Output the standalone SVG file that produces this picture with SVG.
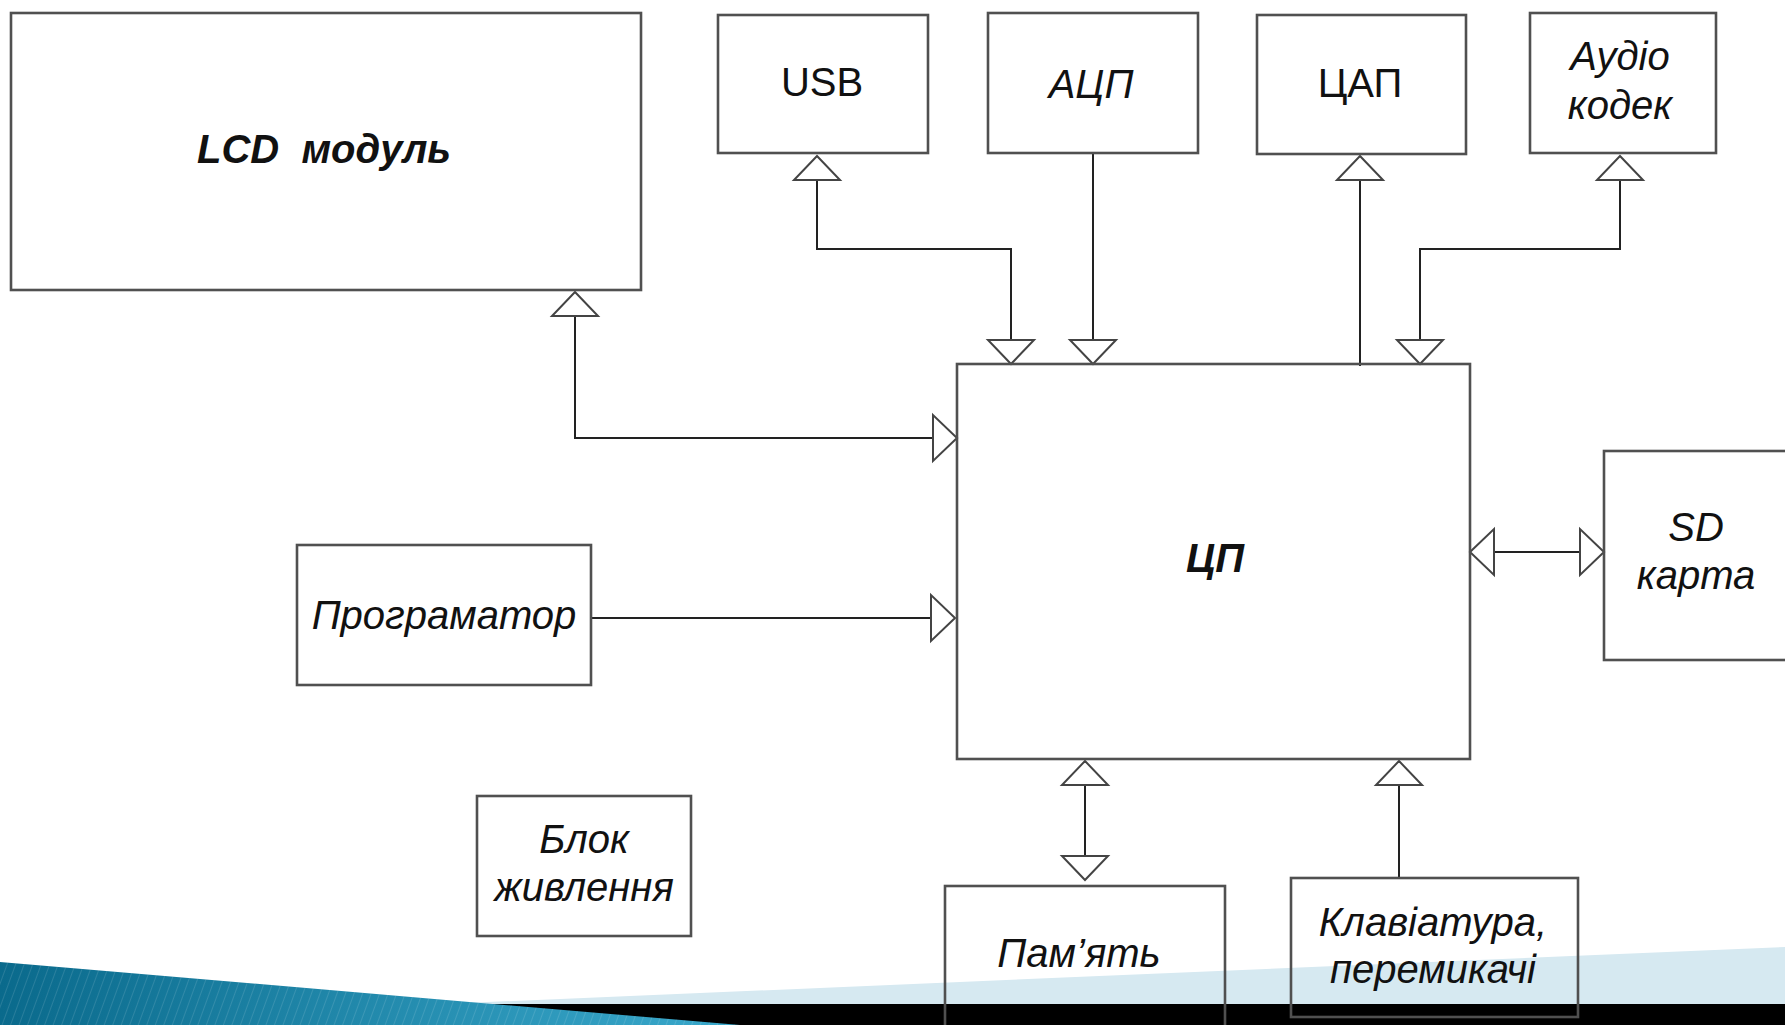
<svg xmlns="http://www.w3.org/2000/svg" xmlns:xlink="http://www.w3.org/1999/xlink" width="1785" height="1025" viewBox="0 0 1785 1025">
<style>
.box{fill:none;stroke:#505050;stroke-width:2.6}
.t{font-family:"Liberation Sans",Arial,sans-serif;font-size:40px;fill:#111;text-anchor:middle}
.i{font-style:italic}
.b{font-weight:bold}
.ln{fill:none;stroke:#222;stroke-width:2}
.tri{fill:#fff;stroke:#444;stroke-width:2;stroke-linejoin:miter}
</style>
<defs>
<path id="ar" class="tri" d="M0,0 L23,24 L-23,24 Z"/>
<linearGradient id="teal" x1="0" y1="0" x2="1" y2="0">
<stop offset="0" stop-color="#0a6a8c"/>
<stop offset="1" stop-color="#3aa9cc"/>
</linearGradient>
<pattern id="stripes" width="8" height="8" patternUnits="userSpaceOnUse" patternTransform="rotate(20)">
<rect width="8" height="8" fill="none"/>
<line x1="0" y1="0" x2="0" y2="8" stroke="#ffffff" stroke-opacity="0.12" stroke-width="2"/>
</pattern>
</defs>
<rect width="1785" height="1025" fill="#fff"/>
<g id="background">
<polygon points="300,1010 1785,947 1785,1025 300,1025" fill="#d6e9f1"/>
<rect x="0" y="1004" width="1785" height="21" fill="#000"/>
<polygon points="0,962 740,1025 0,1025" fill="url(#teal)"/>
<polygon points="0,962 740,1025 0,1025" fill="url(#stripes)"/>
</g>
<g id="connectors">
<polyline class="ln" points="817,181 817,249 1011,249 1011,340"/>
<line class="ln" x1="1093" y1="153" x2="1093" y2="340"/>
<line class="ln" x1="1360" y1="366" x2="1360" y2="181"/>
<polyline class="ln" points="1620,181 1620,249 1420,249 1420,340"/>
<polyline class="ln" points="575,316 575,438 933,438"/>
<line class="ln" x1="591" y1="618" x2="933" y2="618"/>
<line class="ln" x1="1494" y1="552" x2="1580" y2="552"/>
<line class="ln" x1="1085" y1="785" x2="1085" y2="856"/>
<line class="ln" x1="1399" y1="785" x2="1399" y2="878"/>
<use xlink:href="#ar" transform="translate(817,156)"/>
<use xlink:href="#ar" transform="translate(1011,364) rotate(180)"/>
<use xlink:href="#ar" transform="translate(1093,364) rotate(180)"/>
<use xlink:href="#ar" transform="translate(1360,156)"/>
<use xlink:href="#ar" transform="translate(1620,156)"/>
<use xlink:href="#ar" transform="translate(1420,364) rotate(180)"/>
<use xlink:href="#ar" transform="translate(575,292)"/>
<use xlink:href="#ar" transform="translate(957,438) rotate(90)"/>
<use xlink:href="#ar" transform="translate(955,618) rotate(90)"/>
<use xlink:href="#ar" transform="translate(1470,552) rotate(-90)"/>
<use xlink:href="#ar" transform="translate(1604,552) rotate(90)"/>
<use xlink:href="#ar" transform="translate(1085,761)"/>
<use xlink:href="#ar" transform="translate(1085,880) rotate(180)"/>
<use xlink:href="#ar" transform="translate(1399,761)"/>
</g>
<g id="lcd"><rect class="box" x="11" y="13" width="630" height="277"/><text class="t i b" x="324" y="163">LCD &#160;модуль</text></g>
<g id="usb"><rect class="box" x="718" y="15" width="210" height="138"/><text class="t" x="822" y="96">USB</text></g>
<g id="adc"><rect class="box" x="988" y="13" width="210" height="140"/><text class="t i" x="1091" y="98">АЦП</text></g>
<g id="dac"><rect class="box" x="1257" y="15" width="209" height="139"/><text class="t" x="1360" y="97">ЦАП</text></g>
<g id="codec"><rect class="box" x="1530" y="13" width="186" height="140"/><text class="t i" x="1620" y="70">Аудіо</text><text class="t i" x="1620" y="119">кодек</text></g>
<g id="cpu"><rect class="box" x="957" y="364" width="513" height="395"/><text class="t i b" x="1215" y="572">ЦП</text></g>
<g id="sd"><rect class="box" x="1604" y="451" width="200" height="209"/><text class="t i" x="1696" y="541">SD</text><text class="t i" x="1696" y="589">карта</text></g>
<g id="programmer"><rect class="box" x="297" y="545" width="294" height="140"/><text class="t i" x="444" y="629">Програматор</text></g>
<g id="power"><rect class="box" x="477" y="796" width="214" height="140"/><text class="t i" x="584" y="853">Блок</text><text class="t i" x="584" y="901">живлення</text></g>
<g id="memory"><rect class="box" x="945" y="886" width="280" height="150"/><text class="t i" x="1079" y="967">Пам’ять</text></g>
<g id="keyboard"><rect class="box" x="1291" y="878" width="287" height="139"/><text class="t i" x="1433" y="936">Клавіатура,</text><text class="t i" x="1433" y="983">перемикачі</text></g>
</svg>
